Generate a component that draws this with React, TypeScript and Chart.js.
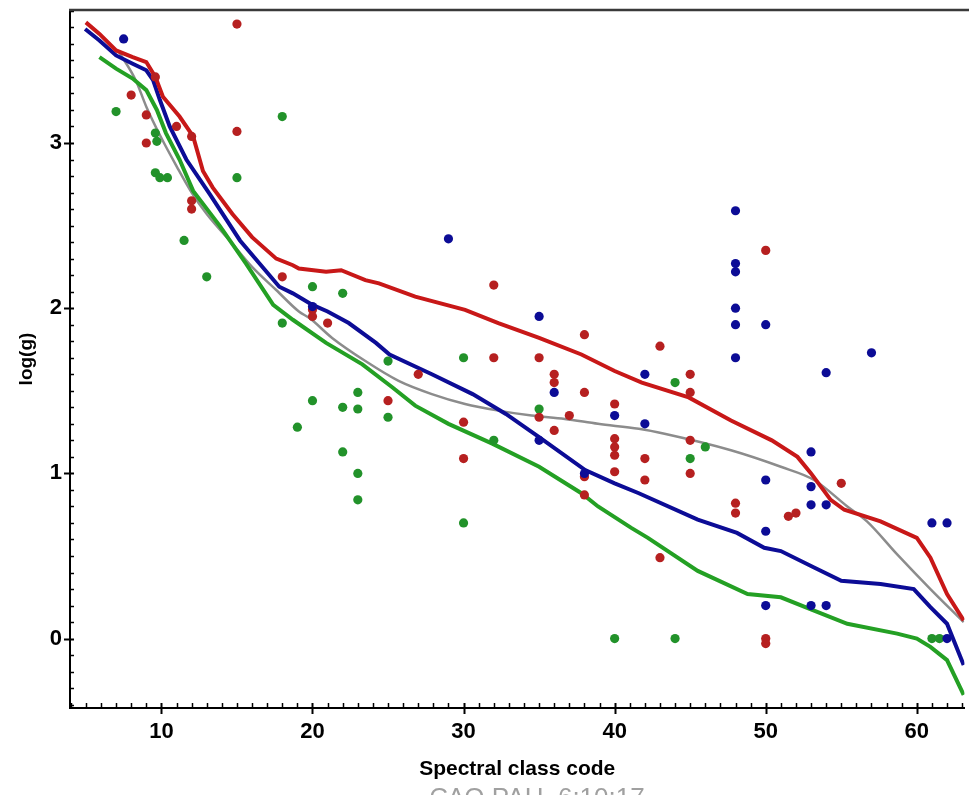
import { useEffect, useRef } from 'react';
import { Chart, registerables } from 'chart.js';

Chart.register(...registerables);

// Scatter of individual stars (spectral class code vs log g)
const redPointsX = [15, 8, 9, 9, 9.6, 11, 12, 15, 12, 12, 18, 20, 20, 21, 32, 38, 32, 35, 27, 36, 36, 38, 25, 40, 35, 37, 36, 30, 40, 40, 40, 30, 38, 40, 38, 50, 43, 45, 45, 45, 42, 42, 45, 55, 48, 48, 51.5, 52, 43, 50, 50];
const redPointsY = [3.72, 3.29, 3.17, 3.0, 3.4, 3.1, 3.04, 3.07, 2.65, 2.6, 2.19, 1.99, 1.95, 1.91, 2.14, 1.84, 1.7, 1.7, 1.6, 1.6, 1.55, 1.49, 1.44, 1.42, 1.34, 1.35, 1.26, 1.31, 1.21, 1.16, 1.11, 1.09, 0.98, 1.01, 0.87, 2.35, 1.77, 1.6, 1.49, 1.2, 1.09, 0.96, 1.0, 0.94, 0.82, 0.76, 0.74, 0.76, 0.49, 0.0, -0.03];

const bluePointsX = [7.5, 20, 29, 35, 36, 40, 35, 38, 48, 48, 48, 48, 48, 50, 57, 48, 42, 54, 42, 53, 50, 53, 53, 54, 61, 62, 50, 50, 53, 54, 62];
const bluePointsY = [3.63, 2.01, 2.42, 1.95, 1.49, 1.35, 1.2, 1.0, 2.59, 2.27, 2.22, 2.0, 1.9, 1.9, 1.73, 1.7, 1.6, 1.61, 1.3, 1.13, 0.96, 0.92, 0.81, 0.81, 0.7, 0.7, 0.65, 0.2, 0.2, 0.2, 0.0];

const greenPointsX = [7, 18, 15, 9.6, 9.9, 10.4, 9.6, 9.7, 11.5, 13, 20, 22, 18, 30, 25, 23, 20, 22, 23, 25, 19, 35, 32, 22, 23, 23, 30, 44, 46, 45, 40, 44, 61, 61.5];
const greenPointsY = [3.19, 3.16, 2.79, 2.82, 2.79, 2.79, 3.06, 3.01, 2.41, 2.19, 2.13, 2.09, 1.91, 1.7, 1.68, 1.49, 1.44, 1.4, 1.39, 1.34, 1.28, 1.39, 1.2, 1.13, 1.0, 0.84, 0.7, 1.55, 1.16, 1.09, 0.0, 0.0, 0.0, 0.0];

// Running-mean curves
const redCurveX = [5.0, 5.9, 7.0, 8.1, 9.0, 9.6, 10.1, 11.2, 12.1, 12.75, 13.4, 14.7, 16.0, 17.6, 18.7, 19.1, 20.9, 21.9, 23.5, 24.4, 26.8, 30.1, 32.3, 35.0, 37.8, 40.0, 41.8, 44.9, 47.7, 50.4, 52.1, 53.0, 54.3, 55.2, 57.6, 60.0, 60.9, 62.0, 63.1];
const redCurveY = [3.73, 3.66, 3.56, 3.52, 3.49, 3.4, 3.28, 3.16, 3.04, 2.83, 2.73, 2.57, 2.43, 2.3, 2.26, 2.24, 2.22, 2.23, 2.17, 2.15, 2.07, 1.99, 1.91, 1.82, 1.72, 1.62, 1.55, 1.46, 1.32, 1.2, 1.1, 1.0, 0.84, 0.78, 0.71, 0.61, 0.49, 0.27, 0.11];

const blueCurveX = [4.95, 5.9, 7.0, 8.1, 9.0, 9.45, 9.9, 10.55, 11.65, 13.2, 15.2, 17.8, 18.7, 20.0, 21.0, 22.4, 24.2, 25.1, 27.9, 30.6, 32.8, 35.0, 38.05, 40.0, 41.6, 45.5, 48.1, 49.9, 51.0, 53.2, 55.0, 57.6, 59.8, 60.9, 62.0, 63.1];
const blueCurveY = [3.69, 3.62, 3.53, 3.48, 3.44, 3.38, 3.26, 3.1, 2.9, 2.69, 2.41, 2.13, 2.09, 2.02, 1.98, 1.91, 1.79, 1.72, 1.6, 1.48, 1.36, 1.22, 1.02, 0.94, 0.88, 0.72, 0.64, 0.55, 0.53, 0.43, 0.35, 0.33, 0.3, 0.19, 0.09, -0.16];

const greenCurveX = [5.9, 7.0, 8.1, 9.0, 9.7, 10.3, 11.2, 12.1, 13.85, 15.6, 17.4, 18.7, 20.9, 23.3, 25.3, 26.8, 29.0, 31.9, 35.0, 37.8, 38.9, 41.1, 42.2, 45.5, 48.8, 51.0, 53.2, 55.4, 58.7, 60.0, 60.9, 62.0, 63.1];
const greenCurveY = [3.52, 3.45, 3.39, 3.32, 3.2, 3.06, 2.9, 2.71, 2.5, 2.27, 2.02, 1.93, 1.79, 1.66, 1.52, 1.41, 1.3, 1.18, 1.04, 0.88, 0.8, 0.67, 0.61, 0.41, 0.27, 0.25, 0.17, 0.09, 0.03, 0.0, -0.05, -0.13, -0.34];

// Smooth overall fit
const grayCurveX = [7.2, 8.3, 9.0, 10.0, 11.0, 12.0, 13.0, 14.7, 16.0, 17.6, 19.1, 19.8, 21.3, 23.5, 25.7, 27.9, 30.1, 32.3, 34.5, 36.7, 38.9, 41.6, 43.3, 47.7, 51.0, 53.2, 55.4, 56.7, 58.7, 60.9, 63.1];
const grayCurveY = [3.55, 3.38, 3.22, 3.03, 2.86, 2.7, 2.57, 2.39, 2.25, 2.11, 1.98, 1.94, 1.82, 1.68, 1.56, 1.48, 1.42, 1.38, 1.35, 1.33, 1.3, 1.27, 1.24, 1.14, 1.04, 0.96, 0.8, 0.71, 0.51, 0.3, 0.1];

const xTickValues = [10, 20, 30, 40, 50, 60];
const yTickValues = [0, 1, 2, 3];

const X_MIN = 3.95;
const X_MAX = 63.15;
const Y_MIN = -0.42;
const Y_MAX = 3.805;

const FONT = '"Liberation Sans", Arial, Helvetica, sans-serif';

const RED_LINE = '#c81818';
const RED_DOT = '#b62020';
const BLUE = '#0c0c96';
const GREEN_LINE = '#24a024';
const GREEN_DOT = '#22922a';
const GRAY = '#8c8c8c';

const pairs = (xs: number[], ys: number[]) => xs.map((x, i) => ({ x, y: ys[i] }));

// Minor/major tick marks, frame top line and the caption below the axis title
const decorPlugin = {
  id: 'decor',
  afterDraw(chart: any) {
    const { ctx, chartArea, scales } = chart;
    const xs = scales.x;
    const ys = scales.y;
    const { left, top, bottom } = chartArea;
    ctx.save();
    ctx.strokeStyle = '#000';
    ctx.lineCap = 'butt';

    for (let v = Math.ceil(X_MIN); v <= Math.floor(X_MAX); v++) {
      const px = Math.round(xs.getPixelForValue(v)) + 0.5;
      const major = v % 10 === 0;
      ctx.lineWidth = major ? 2 : 1.5;
      ctx.beginPath();
      ctx.moveTo(px, bottom - 5);
      ctx.lineTo(px, major ? bottom + 6 : bottom);
      ctx.stroke();
    }

    for (let i = Math.ceil(Y_MIN * 10); i <= Math.floor(Y_MAX * 10); i++) {
      const py = Math.round(ys.getPixelForValue(i / 10)) + 0.5;
      const major = i % 10 === 0;
      ctx.lineWidth = major ? 2 : 1.5;
      ctx.beginPath();
      ctx.moveTo(major ? left - 6 : left, py);
      ctx.lineTo(left + 4, py);
      ctx.stroke();
    }

    // top frame line
    ctx.strokeStyle = '#3a3a3a';
    ctx.lineWidth = 2.5;
    ctx.beginPath();
    ctx.moveTo(left - 1, top);
    ctx.lineTo(chart.width, top);
    ctx.stroke();

    // caption
    ctx.fillStyle = '#a0a0a0';
    ctx.font = `26px ${FONT}`;
    ctx.textAlign = 'center';
    ctx.textBaseline = 'alphabetic';
    ctx.fillText('САО РАН, 6:10:17', 537, 806);
    ctx.restore();
  },
};

export default function App() {
  const canvasRef = useRef<HTMLCanvasElement | null>(null);

  useEffect(() => {
    document.body.style.margin = '0';
    const canvas = canvasRef.current;
    if (!canvas) return;

    const lineStyle = (color: string, width: number) => ({
      showLine: true,
      borderColor: color,
      backgroundColor: color,
      borderWidth: width,
      pointRadius: 0,
      pointHoverRadius: 0,
      fill: false,
    });
    const dotStyle = (color: string) => ({
      showLine: false,
      backgroundColor: color,
      borderColor: color,
      borderWidth: 0,
      pointRadius: 4.6,
      pointHoverRadius: 4.6,
    });

    const chart = new Chart(canvas, {
      type: 'scatter',
      data: {
        datasets: [
          { label: 'blue stars', data: pairs(bluePointsX, bluePointsY), ...dotStyle(BLUE) },
          { label: 'red stars', data: pairs(redPointsX, redPointsY), ...dotStyle(RED_DOT) },
          { label: 'green stars', data: pairs(greenPointsX, greenPointsY), ...dotStyle(GREEN_DOT) },
          { label: 'red mean', data: pairs(redCurveX, redCurveY), ...lineStyle(RED_LINE, 4) },
          { label: 'blue mean', data: pairs(blueCurveX, blueCurveY), ...lineStyle(BLUE, 4) },
          { label: 'green mean', data: pairs(greenCurveX, greenCurveY), ...lineStyle(GREEN_LINE, 4) },
          {
            label: 'fit',
            data: pairs(grayCurveX, grayCurveY),
            ...lineStyle(GRAY, 2.5),
            cubicInterpolationMode: 'monotone' as const,
          },
        ],
      },
      options: {
        responsive: false,
        animation: false,
        devicePixelRatio: 1,
        layout: { padding: { top: 10, right: 2, left: 0, bottom: 0 } },
        plugins: {
          legend: { display: false },
          tooltip: { enabled: false },
        },
        scales: {
          x: {
            type: 'linear',
            position: 'bottom',
            min: X_MIN,
            max: X_MAX,
            grid: { display: false, drawTicks: false },
            border: { display: true, color: '#000', width: 2 },
            afterBuildTicks: (s: any) => {
              s.ticks = xTickValues.map((value) => ({ value }));
            },
            afterFit: (s: any) => {
              s.height = 87;
              s.paddingLeft = 0;
              s.paddingRight = 0;
            },
            ticks: {
              color: '#000',
              padding: 11,
              maxRotation: 0,
              font: { family: FONT, size: 22, weight: 'bold' },
              callback: (v: any) => String(v),
            },
            title: {
              display: true,
              text: 'Spectral class code',
              color: '#000',
              font: { family: FONT, size: 21, weight: 'bold' },
              padding: { top: 0, bottom: 13 },
            },
          },
          y: {
            type: 'linear',
            min: Y_MIN,
            max: Y_MAX,
            grid: { display: false, drawTicks: false },
            border: { display: true, color: '#000', width: 2 },
            afterBuildTicks: (s: any) => {
              s.ticks = yTickValues.map((value) => ({ value }));
            },
            afterFit: (s: any) => {
              s.width = 70;
              s.paddingTop = 0;
              s.paddingBottom = 0;
            },
            ticks: {
              color: '#000',
              padding: 8,
              font: { family: FONT, size: 22, weight: 'bold' },
              callback: (v: any) => String(v),
            },
            title: {
              display: true,
              text: 'log(g)',
              color: '#000',
              font: { family: FONT, size: 19, weight: 'bold' },
              padding: { top: 15, bottom: 0 },
            },
          },
        },
      },
      plugins: [decorPlugin],
    });

    return () => chart.destroy();
  }, []);

  return (
    <div style={{ width: 969, height: 795, position: 'relative', background: '#fff' }}>
      <canvas ref={canvasRef} width={969} height={795} style={{ display: 'block' }} />
    </div>
  );
}
